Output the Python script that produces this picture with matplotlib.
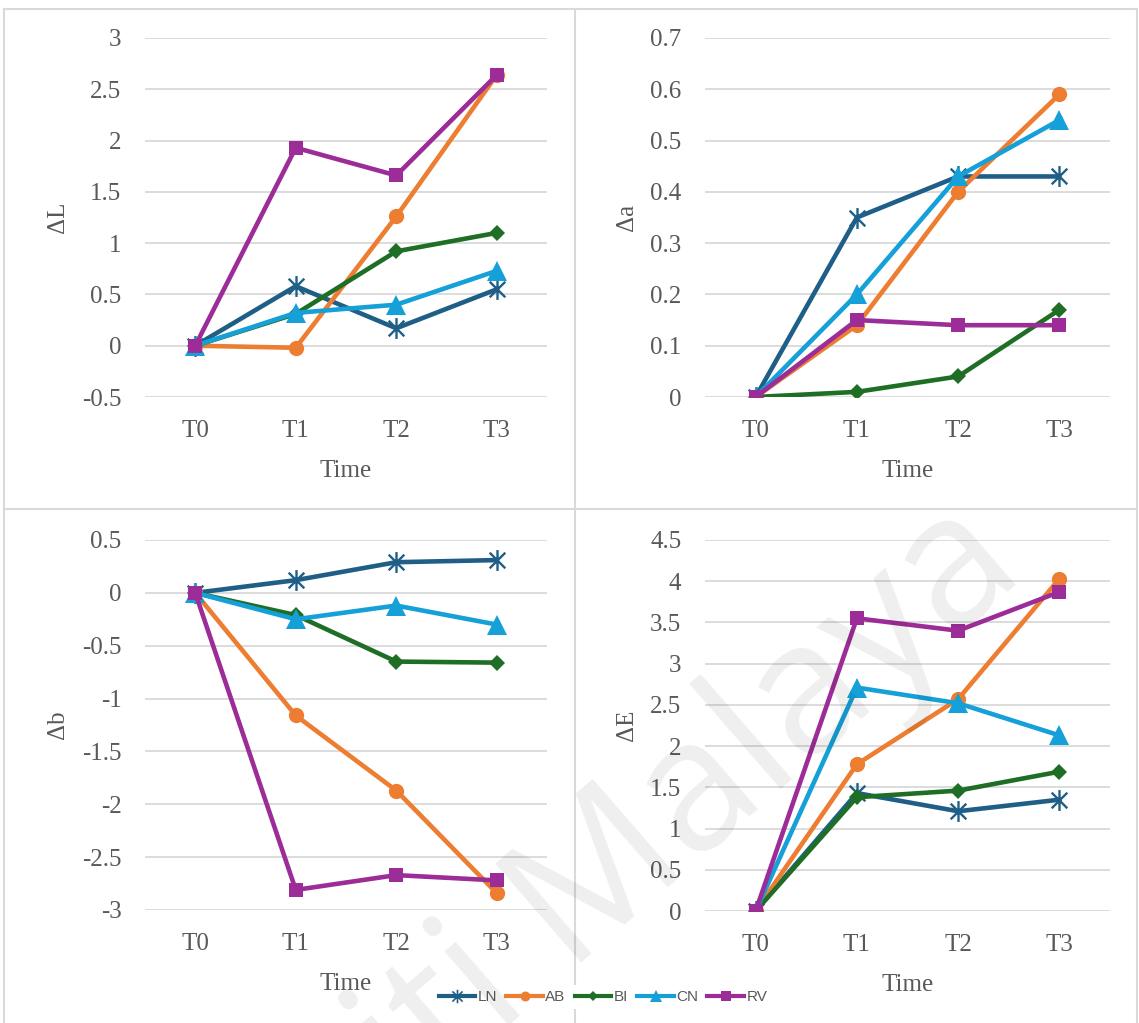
import matplotlib
matplotlib.use("Agg")
import matplotlib.pyplot as plt
from matplotlib.lines import Line2D
from matplotlib.path import Path
from matplotlib.ticker import FuncFormatter, MultipleLocator

# ─────────────────────────────────────────────
# Data
# ─────────────────────────────────────────────
times = ["T0", "T1", "T2", "T3"]
groups = ["LN", "AB", "BI", "CN", "RV"]

delta_L = {
    "LN": [0, 0.58, 0.17, 0.55],
    "AB": [0, -0.02, 1.26, 2.64],
    "BI": [0, 0.31, 0.92, 1.10],
    "CN": [0, 0.32, 0.40, 0.73],
    "RV": [0, 1.93, 1.66, 2.64],
}
delta_a = {
    "LN": [0, 0.35, 0.43, 0.43],
    "AB": [0, 0.14, 0.40, 0.59],
    "BI": [0, 0.01, 0.04, 0.17],
    "CN": [0, 0.20, 0.43, 0.54],
    "RV": [0, 0.15, 0.14, 0.14],
}
delta_b = {
    "LN": [0, 0.12, 0.29, 0.31],
    "AB": [0, -1.16, -1.87, -2.84],
    "BI": [0, -0.21, -0.65, -0.66],
    "CN": [0, -0.25, -0.12, -0.30],
    "RV": [0, -2.81, -2.67, -2.72],
}
delta_E = {
    "LN": [0, 1.43, 1.21, 1.35],
    "AB": [0, 1.78, 2.57, 4.03],
    "BI": [0, 1.38, 1.46, 1.69],
    "CN": [0, 2.71, 2.52, 2.13],
    "RV": [0, 3.55, 3.40, 3.87],
}

# ─────────────────────────────────────────────
# Style tokens
# ─────────────────────────────────────────────
C = {
    "LN": "#1F5F87",
    "AB": "#ED7D31",
    "BI": "#1E6E26",
    "CN": "#16A0D8",
    "RV": "#9C2C97",
    "grid": "#D9D9D9",
    "text": "#595959",
}

STAR = Path(
    [(0, -1), (0, 1), (-0.75, -0.75), (0.75, 0.75), (-0.75, 0.75), (0.75, -0.75)],
    [Path.MOVETO, Path.LINETO, Path.MOVETO, Path.LINETO, Path.MOVETO, Path.LINETO],
)
MARKERS = {
    "LN": dict(marker=STAR, ms=15, mew=1.7, hollow=True),
    "AB": dict(marker="o", ms=11, mew=0, hollow=False),
    "BI": dict(marker="D", ms=8, mew=0, hollow=False),
    "CN": dict(marker="^", ms=14, mew=0, hollow=False),
    "RV": dict(marker="s", ms=10.5, mew=0, hollow=False),
}

SERIF = ["Liberation Serif", "DejaVu Serif"]

fig = plt.figure(figsize=(11.39, 10.23), dpi=100)
W, H = 1139, 1023


def px_axes(x0, y0, x1, y1):
    return fig.add_axes([x0 / W, 1 - y1 / H, (x1 - x0) / W, (y1 - y0) / H])


def panel(ax, data, ylabel, ylim, step):
    x = range(len(times))
    for g in groups:
        m = MARKERS[g]
        ax.plot(x, data[g], color=C[g], lw=3.3, marker=m["marker"], ms=m["ms"],
                mew=m["mew"], mec=C[g], mfc="none" if m["hollow"] else C[g],
                solid_joinstyle="round", zorder=3)
    ax.set_xlim(-0.5, len(times) - 0.5)
    ax.set_ylim(*ylim)
    ax.yaxis.set_major_locator(MultipleLocator(step))
    ax.yaxis.set_major_formatter(FuncFormatter(lambda v, p: f"{round(v, 3):g}"))
    ax.set_xticks(list(x))
    ax.set_xticklabels(times)
    ax.grid(axis="y", color=C["grid"], lw=1.3)
    ax.set_axisbelow(True)
    for s in ax.spines.values():
        s.set_visible(False)
    ax.tick_params(length=0, labelsize=18, colors=C["text"])
    ax.tick_params(axis="y", pad=17)
    ax.tick_params(axis="x", pad=16.5)
    for lab in ax.get_xticklabels() + ax.get_yticklabels():
        lab.set_family(SERIF)
    ax.set_xlabel("Time", fontsize=18, color=C["text"], family=SERIF, labelpad=13)
    ax.set_ylabel(ylabel, fontsize=18, color=C["text"], family=SERIF, labelpad=9)


ax1 = px_axes(145, 38, 547, 397)
ax2 = px_axes(705, 38, 1110, 397)
ax3 = px_axes(145, 540, 547, 910)
ax4 = px_axes(705, 540, 1110, 911)

panel(ax1, delta_L, "ΔL", (-0.5, 3), 0.5)
panel(ax2, delta_a, "Δa", (0, 0.7), 0.1)
panel(ax3, delta_b, "Δb", (-3, 0.5), 0.5)
panel(ax4, delta_E, "ΔE", (0, 4.5), 0.5)

# frame lines between the four charts
frame = dict(color=C["grid"], lw=1.5, transform=fig.transFigure, zorder=0)
fig.add_artist(Line2D([4 / W, 1137 / W], [1 - 9 / H, 1 - 9 / H], **frame))
fig.add_artist(Line2D([4 / W, 4 / W], [0, 1 - 9 / H], **frame))
fig.add_artist(Line2D([1137 / W, 1137 / W], [0, 1 - 9 / H], **frame))
fig.add_artist(Line2D([575 / W, 575 / W], [0, 1 - 9 / H], **frame))
fig.add_artist(Line2D([4 / W, 1137 / W], [1 - 509 / H, 1 - 509 / H], **frame))

# legend
handles = []
for g in groups:
    m = MARKERS[g]
    handles.append(Line2D([], [], color=C[g], lw=3, marker=m["marker"],
                          ms=m["ms"] * 0.65, mew=1.2 if m["hollow"] else 0, mec=C[g],
                          mfc="none" if m["hollow"] else C[g], label=g))
leg = fig.legend(handles=handles, loc="center", bbox_to_anchor=(603 / W, 1 - 997 / H),
                 ncol=5, frameon=True, facecolor="white", edgecolor="none",
                 framealpha=1, handlelength=2.4, handletextpad=0.15,
                 columnspacing=0.6, borderpad=0.3,
                 prop={"family": ["Liberation Sans", "DejaVu Sans"], "size": 11})
for t in leg.get_texts():
    t.set_color(C["text"])

# watermark
fig.text(1028 / W, 1 - 575 / H, "Universiti Malaya", rotation=41,
         rotation_mode="anchor", ha="right", va="baseline", fontsize=132,
         family=["Open Sans", "DejaVu Sans"], color="black", alpha=0.065, zorder=10)

fig.savefig("out.png", dpi=100, facecolor="white")
